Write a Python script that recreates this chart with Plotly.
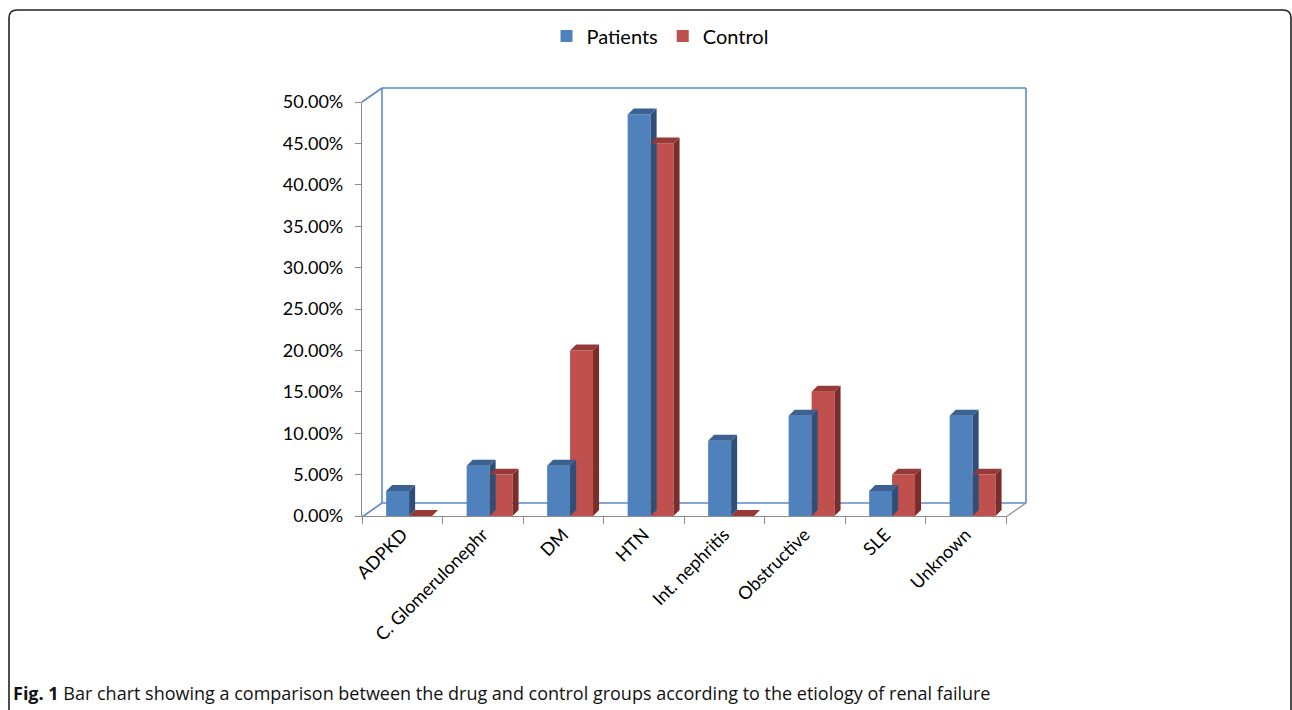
import plotly.graph_objects as go

categories = ["ADPKD", "C. Glomerulonephr", "DM", "HTN", "Int. nephritis",
              "Obstructive", "SLE", "Unknown"]
patients = [0.0303, 0.0606, 0.0606, 0.4848, 0.0909, 0.1212, 0.0303, 0.1212]
control = [0.0, 0.05, 0.20, 0.45, 0.0, 0.15, 0.05, 0.05]
y_ticks = [0.0, 0.05, 0.10, 0.15, 0.20, 0.25, 0.30, 0.35, 0.40, 0.45, 0.50]

W, H = 1292, 710
L, R, T, B = 362, 1006, 102, 516
PW, PH = R - L, B - T

def px(x):
    return (x - L) / PW

def py(y):
    return (B - y) / PH

BLUE, RED = "#4F81BD", "#C0504D"
BLUE_TOP, BLUE_SIDE = "#3B6193", "#2F4E78"
RED_TOP, RED_SIDE = "#973A37", "#7B2D2B"
WALL = "#5B8ACB"
AXIS = "#8C8C8C"

BAR_W = 0.285
OFF_P, OFF_C = -0.20, 0.085
DX, DY = 0.075, 0.0072  # depth in data units (~6 px each way)

xs = list(range(len(categories)))

fig = go.Figure()
fig.add_trace(go.Bar(x=xs, y=patients, name="Patients", marker_color=BLUE,
                     marker_line_width=0, width=BAR_W, offset=OFF_P))
fig.add_trace(go.Bar(x=xs, y=control, name="Control", marker_color=RED,
                     marker_line_width=0, width=BAR_W, offset=OFF_C))


def faces(vals, off):
    tx, ty, sx, sy = [], [], [], []
    for i, v in enumerate(vals):
        x0 = i + off
        x1 = x0 + BAR_W
        tx += [x0, x0 + DX, x1 + DX, x1, x0, None]
        ty += [v, v + DY, v + DY, v, v, None]
        if v > 0:
            sx += [x1, x1, x1 + DX, x1 + DX, x1, None]
            sy += [0, v, v + DY, DY, 0, None]
    return tx, ty, sx, sy


for vals, off, top_c, side_c in [(patients, OFF_P, BLUE_TOP, BLUE_SIDE),
                                 (control, OFF_C, RED_TOP, RED_SIDE)]:
    tx, ty, sx, sy = faces(vals, off)
    fig.add_trace(go.Scatter(x=sx, y=sy, mode="lines", fill="toself",
                             fillcolor=side_c, line=dict(width=0, color=side_c),
                             hoverinfo="skip", showlegend=False))
    fig.add_trace(go.Scatter(x=tx, y=ty, mode="lines", fill="toself",
                             fillcolor=top_c, line=dict(width=0, color=top_c),
                             hoverinfo="skip", showlegend=False))

# 3D frame decorations (back wall / floor outlines)
bx, by = 20, 14
wall_lines = [
    (L, T, L + bx, T - by),                    # top-left diagonal
    (L + bx, T - by, R + bx, T - by),          # back top
    (L + bx, T - by, L + bx, B + 1 - by),      # back left vertical
    (R + bx, T - by, R + bx, B + 1 - by),      # back right vertical
    (L + bx, B + 1 - by, R + bx, B + 1 - by),  # back floor line
    (L, B + 1, L + bx, B + 1 - by),            # left floor diagonal
]
shapes = []
for x0, y0, x1, y1 in wall_lines:
    shapes.append(dict(type="line", xref="paper", yref="paper",
                       x0=px(x0), y0=py(y0), x1=px(x1), y1=py(y1),
                       line=dict(color=WALL, width=1.6), layer="below"))
# right floor diagonal (gray)
shapes.append(dict(type="line", xref="paper", yref="paper",
                   x0=px(R), y0=py(B + 1), x1=px(R + bx), y1=py(B + 1 - by),
                   line=dict(color=AXIS, width=1.2), layer="below"))
# outer rounded border
r = 8
x0b, y0b, x1b = 9, 10, 1291
path = (f"M {px(x0b)},{py(H + 20)} L {px(x0b)},{py(y0b + r)} "
        f"Q {px(x0b)},{py(y0b)} {px(x0b + r)},{py(y0b)} "
        f"L {px(x1b - r)},{py(y0b)} Q {px(x1b)},{py(y0b)} {px(x1b)},{py(y0b + r)} "
        f"L {px(x1b)},{py(H + 20)}")
shapes.append(dict(type="path", xref="paper", yref="paper", path=path,
                   line=dict(color="#222222", width=1.6)))

fig.update_layout(
    width=W, height=H,
    margin=dict(l=L, r=W - R, t=T, b=H - B),
    paper_bgcolor="white", plot_bgcolor="rgba(0,0,0,0)",
    barmode="overlay",
    font=dict(family="Lato, Open Sans, sans-serif", color="#000000"),
    showlegend=True,
    legend=dict(orientation="h", x=px(660), y=py(36), xanchor="center",
                yanchor="middle", font=dict(size=20, family="Lato"),
                traceorder="normal", itemwidth=30, tracegroupgap=0,
                bgcolor="rgba(0,0,0,0)"),
    shapes=shapes,
    annotations=[dict(
        xref="paper", yref="paper", x=px(11), y=py(693),
        xanchor="left", yanchor="middle", showarrow=False,
        text="<b>Fig. 1</b> Bar chart showing a comparison between the drug and control groups according to the etiology of renal failure",
        font=dict(family="Open Sans", size=18, color="#111111"))],
)

fig.update_xaxes(
    range=[-0.5, len(categories) - 0.5], tickmode="array", tickvals=xs,
    ticktext=categories, tickangle=-45, ticks="", showgrid=False,
    zeroline=False, showline=True, linecolor=AXIS, linewidth=1.2,
    tickfont=dict(size=18, family="Lato", color="#000000"),
    minor=dict(tickmode="array",
               tickvals=[i - 0.5 for i in range(len(categories) + 1)],
               ticks="outside", ticklen=7, tickcolor=AXIS, tickwidth=1.2,
               showgrid=False),
)
fig.update_yaxes(
    range=[0, 0.5], tickmode="array", tickvals=y_ticks, tickformat=".2%",
    ticks="outside", ticklen=6, tickcolor=AXIS, tickwidth=1.2,
    ticklabelstandoff=8,
    showgrid=False, zeroline=False, showline=True, linecolor=AXIS,
    linewidth=1.2, tickfont=dict(size=18, family="Lato", color="#000000"),
)

fig.write_html("out.html")
